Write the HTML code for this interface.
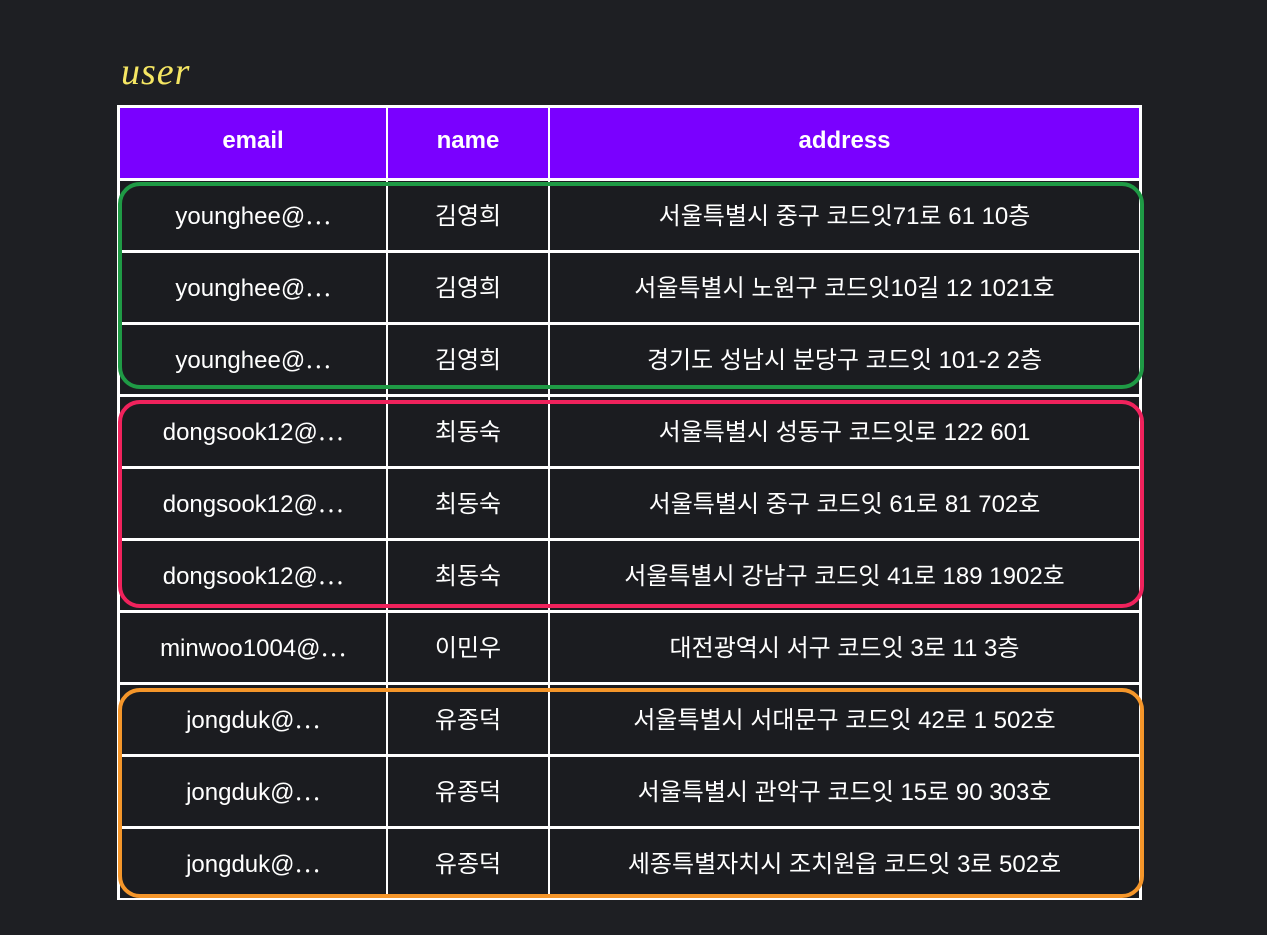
<!DOCTYPE html>
<html><head><meta charset="utf-8">
<style>
html,body{margin:0;padding:0;}
body{width:1267px;height:935px;background:#1e1f23;position:relative;overflow:hidden;font-family:"Liberation Sans","Noto Sans CJK KR",sans-serif;}
.title{position:absolute;left:121px;top:50px;font-family:"Liberation Serif",serif;font-style:italic;font-size:38px;color:#f5e663;letter-spacing:1px;}
.tbl{position:absolute;left:117px;top:105px;width:1025px;height:795px;background:#fff;}
.cell{position:absolute;background:#1b1c20;color:#fff;font-size:24px;display:flex;align-items:center;justify-content:center;white-space:nowrap;padding-bottom:4px;box-sizing:border-box;}
.hd{background:#7a00ff;font-weight:bold;font-size:24px;}
.grp{position:absolute;left:118px;width:1018px;border:4px solid;border-radius:22px;box-sizing:content-box;}
</style></head><body>
<div class="title">user</div>
<div class="tbl" id="tbl"></div>
<div class="grp" style="top:182px;height:199px;border-color:#1f9a45"></div>
<div class="grp" style="top:400px;height:200px;border-color:#f0225c"></div>
<div class="grp" style="top:688px;height:202px;border-color:#f5962a"></div>
<script>
const headers=["email","name","address"];
const emails=["younghee@⋯","younghee@⋯","younghee@⋯","dongsook12@⋯","dongsook12@⋯","dongsook12@⋯","minwoo1004@⋯","jongduk@⋯","jongduk@⋯","jongduk@⋯"];
const names=["김영희","김영희","김영희","최동숙","최동숙","최동숙","이민우","유종덕","유종덕","유종덕"];
const addresses=["서울특별시 중구 코드잇71로 61 10층","서울특별시 노원구 코드잇10길 12 1021호","경기도 성남시 분당구 코드잇 101-2 2층","서울특별시 성동구 코드잇로 122 601","서울특별시 중구 코드잇 61로 81 702호","서울특별시 강남구 코드잇 41로 189 1902호","대전광역시 서구 코드잇 3로 11 3층","서울특별시 서대문구 코드잇 42로 1 502호","서울특별시 관악구 코드잇 15로 90 303호","세종특별자치시 조치원읍 코드잇 3로 502호"];
const tbl=document.getElementById('tbl');
const colX=[3,271,433];const colW=[266,160,589];
function cell(txt,ci,y,h,hd){const d=document.createElement('div');d.className='cell'+(hd?' hd':'');d.textContent=txt;d.style.left=colX[ci]+'px';d.style.top=y+'px';d.style.width=colW[ci]+'px';d.style.height=h+'px';tbl.appendChild(d);return d;}
headers.forEach((h,i)=>{const d=cell(h,i,3,70,true);

});
const cols=[emails,names,addresses];const cn=['email','name','address'];
for(let r=0;r<emails.length;r++){
 const y=76+72*r;
 cols.forEach((arr,ci)=>{const d=cell(arr[r],ci,y,69,false);
 
 });
}
</script>
</body></html>
